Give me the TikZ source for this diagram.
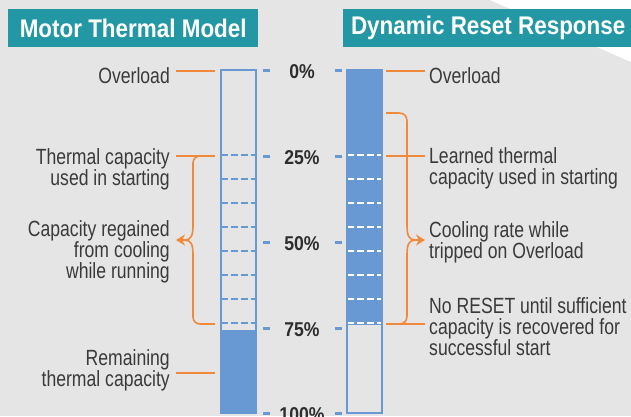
\documentclass[tikz,border=0pt]{standalone}
\usepackage{fontspec}
\setmainfont[FakeStretch=0.8]{Liberation Sans}
\newfontfamily\headfont[FakeStretch=0.88]{Liberation Sans}
\usetikzlibrary{arrows.meta}
\definecolor{bggrey}{HTML}{E5E5E5}
\definecolor{headteal}{HTML}{2398A4}
\definecolor{barblue}{HTML}{6899D2}
\definecolor{lineorange}{HTML}{F08A3A}
\definecolor{txtgrey}{HTML}{3A3A3A}
\definecolor{pctgrey}{HTML}{2E2E2E}

\begin{document}
\begin{tikzpicture}[x=1pt, y=-1pt,
    head/.style={fill=headteal, text=white, font=\headfont\bfseries\fontsize{25.5}{26}\selectfont,
      minimum height=38pt, inner sep=0pt, anchor=north west},
    lbl/.style={text=txtgrey, font=\fontsize{22}{21}\selectfont, inner ysep=0pt},
    lblL/.style={lbl, align=right, anchor=east, inner xsep=6pt},
    lblR/.style={lbl, align=left, anchor=west, inner xsep=4pt},
    pct/.style={text=pctgrey, font=\headfont\bfseries\fontsize{20}{20}\selectfont, inner sep=0pt},
    bar/.style={draw=barblue, line width=2.4pt, minimum width=35pt, minimum height=343pt, inner sep=0pt},
    tick/.style={barblue, line width=3pt},
    dashblue/.style={barblue, line width=2.2pt, dash pattern=on 6.5pt off 3.5pt},
    dashwhite/.style={white, line width=2.2pt, dash pattern=on 6.5pt off 3.5pt},
    conn/.style={lineorange, line width=1.6pt},
    connL/.style={conn, shorten >=4.8pt},
    connR/.style={conn, shorten <=2.8pt},
    tip/.style={conn, -{Stealth[length=9pt, width=11pt]}}]
    \useasboundingbox (0, 0) rectangle (631, 416);
    \fill [bggrey] (0, 0) rectangle (631, 416);
    \fill [white] (490, 0) -- (631, 0) -- (631, 62) -- cycle;

    \node [head, minimum width=250pt] (headL) at (8, 9) {Motor Thermal Model};
    \node [head, minimum width=290pt] (headR) at (343, 9) {Dynamic Reset Response};

    \fill [barblue] (221, 330) rectangle (256, 413);
    \fill [barblue] (347, 70) rectangle (382, 324.5);
    \foreach \y in {155, 179, ..., 323} {
      \draw [dashblue] (221, \y) -- (256, \y);
      \draw [dashwhite] (347, \y) -- (382, \y);
    }
    \node [bar] (barL) at (238.5, 241.5) {};
    \node [bar] (barR) at (364.5, 241.5) {};

    \foreach \p/\y in {0/70, 25/156, 50/242, 75/328, 100/413} {
      \draw [tick] (263, \y) -- (270, \y);
      \draw [tick] (335, \y) -- (342, \y);
      \node [pct] (p\p) at (302, \y+1.5) {\p\%};
    }

    \node [lblL] (ovlL) at (176, 76) {Overload};
    \node [lblL] (thcL) at (176, 169) {Thermal capacity\\used in starting};
    \node [lblL] (capL) at (176, 252) {Capacity regained\\from cooling\\while running};
    \node [lblL] (remL) at (176, 370) {Remaining\\thermal capacity};
    \node [lblR] (ovlR) at (425, 76) {Overload};
    \node [lblR] (lrnR) at (425, 168) {Learned thermal\\capacity used in starting};
    \node [lblR] (coolR) at (425, 242) {Cooling rate while\\tripped on Overload};
    \node [lblR] (rstR) at (425, 327) {No RESET until sufficient\\capacity is recovered for\\successful start};

    \coordinate (lv0) at (0, 71);
    \coordinate (lv25) at (0, 156);
    \coordinate (lv75) at (0, 324);
    \coordinate (lvRem) at (0, 373);
    \coordinate (tipL) at (185, 240);
    \coordinate (tipR) at (415, 240);

    \draw [connL] (ovlL.east |- lv0) -- (barL.west |- lv0);
    \draw [connL] (thcL.east |- lv25) -- (barL.west |- lv25);
    \draw [connL] (remL.east |- lvRem) -- (barL.west |- lvRem);
    \draw [connR] (barR.east |- lv0) -- (ovlR.west |- lv0);
    \draw [connR] (barR.east |- lv25) -- (lrnR.west |- lv25);
    \draw [connR] (barR.east |- lv75) -- (rstR.west |- lv75);

    \draw [conn] (200, 156) .. controls (196, 156) and (193, 159) .. (193, 163) -- (193, 226)
      .. controls (193, 235) and (191, 240) .. (tipL);
    \draw [conn] (tipL) .. controls (191, 240) and (193, 245) .. (193, 254) -- (193, 317)
      .. controls (193, 321) and (196, 324) .. (200, 324) -- (215, 324);
    \draw [tip] (tipL) -- (capL.east |- tipL);

    \draw [conn] (386, 113) -- (399, 113) .. controls (404, 113) and (407, 116) .. (407, 121) -- (407, 226)
      .. controls (407, 235) and (409, 240) .. (tipR);
    \draw [conn] (tipR) .. controls (409, 240) and (407, 245) .. (407, 254) -- (407, 316)
      .. controls (407, 321) and (404, 324) .. (399, 324);
    \draw [tip] (tipR) -- (coolR.west |- tipR);
  \end{tikzpicture}
\end{document}
